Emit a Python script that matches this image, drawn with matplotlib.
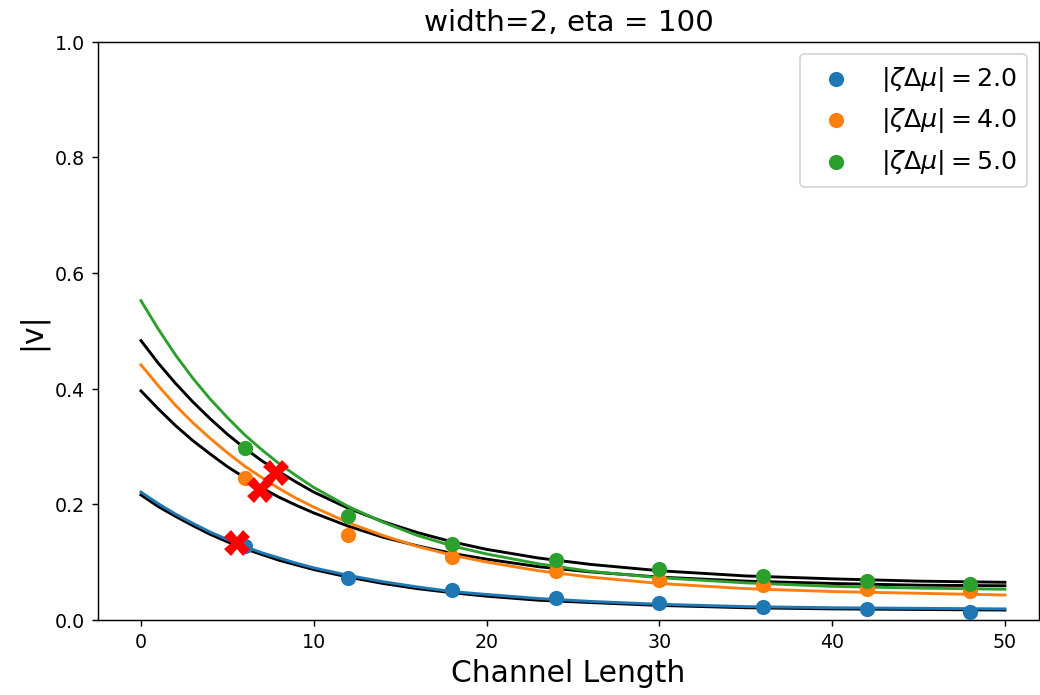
import numpy as np
from matplotlib import pyplot as plt

# measured |v| at each channel length
lengths = [6, 12, 18, 24, 30, 36, 42, 48]
v_2 = [0.127, 0.073, 0.051, 0.0375, 0.029, 0.023, 0.0185, 0.0135]
v_4 = [0.245, 0.147, 0.108, 0.085, 0.069, 0.0605, 0.054, 0.0505]
v_5 = [0.297, 0.179, 0.131, 0.104, 0.0875, 0.076, 0.0675, 0.0615]

# fitted curves (colored) and theory curves (black), sampled along x
x_fit = [0, 1, 2, 3, 4, 5, 6, 7, 8, 9, 10, 12, 14, 16, 18, 20, 23, 26, 30, 35, 40, 45, 50]
fit_2 = [0.221, 0.201, 0.183, 0.167, 0.152, 0.139, 0.127, 0.116, 0.107, 0.098, 0.090, 0.077,
         0.066, 0.057, 0.049, 0.044, 0.037, 0.032, 0.027, 0.023, 0.021, 0.020, 0.019]
fit_4 = [0.441, 0.405, 0.371, 0.341, 0.314, 0.289, 0.266, 0.246, 0.227, 0.210, 0.195, 0.168,
         0.146, 0.127, 0.112, 0.100, 0.085, 0.074, 0.063, 0.054, 0.049, 0.046, 0.043]
fit_5 = [0.552, 0.503, 0.458, 0.418, 0.382, 0.350, 0.320, 0.294, 0.270, 0.249, 0.229, 0.196,
         0.169, 0.146, 0.128, 0.114, 0.097, 0.084, 0.073, 0.064, 0.058, 0.055, 0.053]
theory_2 = [0.216, 0.196, 0.179, 0.163, 0.148, 0.135, 0.123, 0.113, 0.103, 0.095, 0.087, 0.074,
            0.063, 0.054, 0.047, 0.041, 0.034, 0.030, 0.025, 0.021, 0.019, 0.018, 0.017]
theory_4 = [0.396, 0.365, 0.336, 0.310, 0.287, 0.265, 0.246, 0.228, 0.212, 0.198, 0.185, 0.162,
            0.143, 0.128, 0.115, 0.105, 0.092, 0.083, 0.074, 0.067, 0.063, 0.060, 0.059]
theory_5 = [0.483, 0.444, 0.409, 0.377, 0.348, 0.321, 0.297, 0.275, 0.256, 0.238, 0.221, 0.193,
            0.170, 0.151, 0.135, 0.122, 0.107, 0.096, 0.085, 0.076, 0.071, 0.067, 0.065]

# red crosses
cross_x = [5.55, 6.9, 7.8]
cross_y = [0.133, 0.225, 0.254]

labels = [r'$|\zeta\Delta\mu| = 2.0$', r'$|\zeta\Delta\mu| = 4.0$', r'$|\zeta\Delta\mu| = 5.0$']
colors = ['tab:blue', 'tab:orange', 'tab:green']

fig, ax = plt.subplots(figsize=(8, 5.35), dpi=130)
plt.subplots_adjust(left=0.094, right=0.9995, top=0.9395, bottom=0.108)

for th in [theory_2, theory_4, theory_5]:
	ax.plot(x_fit, th, color='black', lw=1.6, zorder=2)

for pts, fit, c, lab in zip([v_2, v_4, v_5], [fit_2, fit_4, fit_5], colors, labels):
	ax.plot(x_fit, fit, color=c, lw=1.6, zorder=2)
	ax.scatter(lengths, pts, color=c, s=55, label=lab, zorder=3)

ax.plot(cross_x, cross_y, 'X', color='red', ms=14, mew=0, ls='none', zorder=4)

ax.set_xlim(-2.5, 52)
ax.set_ylim(0, 1)
ax.set_xticks([0, 10, 20, 30, 40, 50])
ax.set_yticks([0.0, 0.2, 0.4, 0.6, 0.8, 1.0])
ax.tick_params(labelsize=10.5)
ax.set_xlabel('Channel Length', fontsize=16.5)
ax.set_ylabel('|v|', fontsize=16.5)
ax.set_title('width=2, eta = 100', fontsize=16.3)
ax.legend(loc='upper right', fontsize=14)

plt.savefig('out.png')
